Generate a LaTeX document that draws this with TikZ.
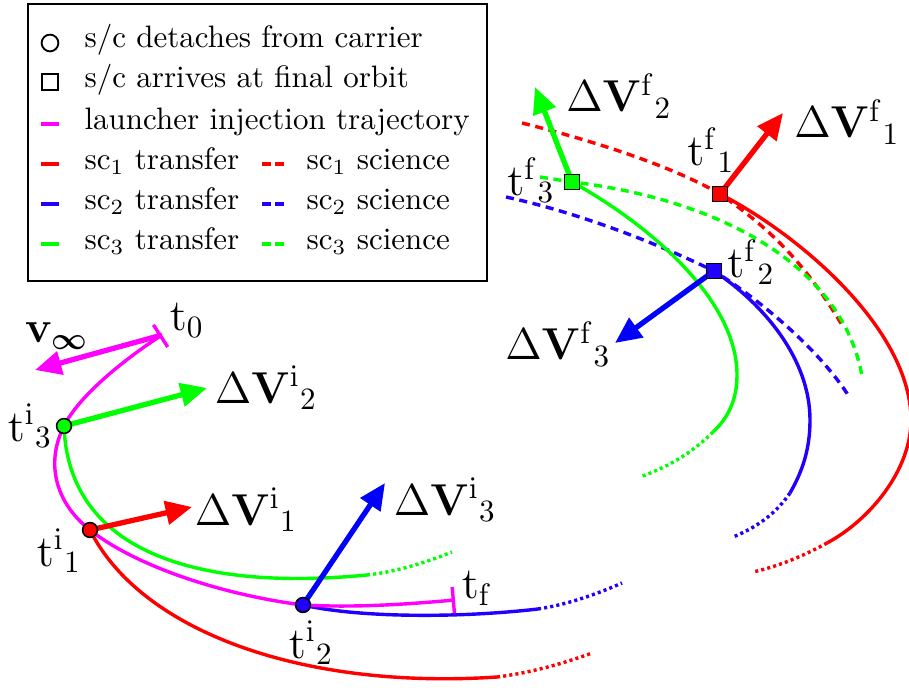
\documentclass[tikz,border=0pt]{standalone}
\usepackage{amsmath}
\usetikzlibrary{arrows.meta,positioning}
\definecolor{launch}{RGB}{255,0,255}
\definecolor{scred}{RGB}{255,0,0}
\definecolor{scblue}{RGB}{34,0,255}
\definecolor{scgreen}{RGB}{0,255,0}
\tikzset{
    orbit/.style={line width=1.1pt},
    science/.style={orbit, dash pattern=on 2.6pt off 1.8pt},
    gapline/.style={orbit, dash pattern=on 1pt off 1pt},
    burn/.style={-{Triangle[length=8.5pt,width=7.5pt]}, line width=1.7pt},
    depart/.style={circle, draw, line width=0.5pt, inner sep=0pt, minimum size=4.8pt},
    arrive/.style={rectangle, draw, line width=0.5pt, inner sep=0pt, minimum size=4.8pt},
    lbl/.style={font=\Large, inner sep=0pt},
    key/.style={anchor=base west, inner sep=0pt},
}

\begin{document}
\begin{tikzpicture}[x=0.3227pt, y=-0.3227pt]
    \useasboundingbox (0,0) rectangle (909,688);

    \coordinate (t0) at (162,335);
    \coordinate (ti3) at (64,426);
    \coordinate (ti1) at (90,530);
    \coordinate (ti2) at (303,605);
    \coordinate (tf) at (455,600);
    \coordinate (tf1) at (720,194);
    \coordinate (tf3) at (572,182);
    \coordinate (tf2) at (714,271);

    % science orbits
    \draw[science, scred] (522,123) .. controls (590,140) and (670,165) .. (tf1)
        .. controls (775,232) and (807,267) .. (842,325);
    \draw[science, scgreen] (540,177) -- (tf3) .. controls (722,200) and (842,266) .. (862,376);
    \draw[science, scblue] (506,197) .. controls (575,212) and (650,240) .. (tf2)
        .. controls (760,300) and (820,350) .. (850,398);

    % arrival arcs
    \draw[orbit, scred] (tf1) .. controls (800,235) and (911,330) .. (911,420)
        .. controls (911,470) and (870,520) .. (827,543);
    \draw[gapline, scred] (827,543) .. controls (800,558) and (775,567) .. (753,572);
    \draw[orbit, scblue] (tf2) .. controls (765,305) and (810,360) .. (810,420)
        .. controls (810,450) and (802,472) .. (790,493);
    \draw[gapline, scblue] (790,493) .. controls (775,515) and (755,528) .. (733,537);
    \draw[orbit, scgreen] (tf3) .. controls (650,225) and (737,300) .. (737,375)
        .. controls (737,400) and (728,418) .. (713,432);
    \draw[gapline, scgreen] (713,432) .. controls (690,455) and (665,468) .. (640,477);

    % departure arcs
    \draw[orbit, scgreen] (ti3) .. controls (68,548) and (190,592) .. (367,575);
    \draw[gapline, scgreen] (367,575) .. controls (395,572) and (425,563) .. (452,552);
    \draw[orbit, scred] (ti1) .. controls (140,630) and (300,690) .. (497,677);
    \draw[gapline, scred] (497,677) .. controls (530,673) and (565,663) .. (592,653);
    \draw[orbit, scblue] (ti2) .. controls (360,618) and (460,618) .. (538,609);
    \draw[gapline, scblue] (538,609) .. controls (565,605) and (595,595) .. (622,583);

    \draw[orbit, launch, {Bar[width=8.5pt]}-{Bar[width=8.5pt]}] (t0)
        .. controls (128,357) and (80,394) .. (ti3)
        .. controls (44,466) and (58,505) .. (ti1)
        .. controls (137,567) and (224,595) .. (ti2)
        .. controls (355,608) and (410,604) .. (tf);

    % burns
    \coordinate (vinftip) at (35,370);
    \coordinate (dvi2tip) at (207,388);
    \coordinate (dvi1tip) at (192,507);
    \coordinate (dvi3tip) at (385,483);
    \coordinate (dvf1tip) at (783,113);
    \coordinate (dvf2tip) at (535,87);
    \coordinate (dvf3tip) at (615,343);
    \draw[burn, launch] (t0) -- (vinftip);
    \draw[burn, scgreen] (ti3) -- (dvi2tip);
    \draw[burn, scred] (ti1) -- (dvi1tip);
    \draw[burn, blue] (ti2) -- (dvi3tip);
    \draw[burn, scred] (tf1) -- (dvf1tip);
    \draw[burn, scgreen] (tf3) -- (dvf2tip);
    \draw[burn, blue] (tf2) -- (dvf3tip);

    \node[depart, fill=scgreen] (mi3) at (ti3) {};
    \node[depart, fill=scred] (mi1) at (ti1) {};
    \node[depart, fill=scblue] (mi2) at (ti2) {};
    \node[arrive, fill=scred] (mf1) at (tf1) {};
    \node[arrive, fill=scgreen] (mf3) at (tf3) {};
    \node[arrive, fill=scblue] (mf2) at (tf2) {};

    \node[lbl] (lt0) at (187,320) {$\mathrm{t}_0$};
    \node[lbl] (ltf) at (477,588) {$\mathrm{t_f}$};
    \node[lbl] (lti3) at (30,426) {${\mathrm{t}^{\mathrm{i}}}_{3}$};
    \node[lbl] (lti1) at (59,551) {${\mathrm{t}^{\mathrm{i}}}_{1}$};
    \node[lbl] (lti2) at (311,643) {${\mathrm{t}^{\mathrm{i}}}_{2}$};
    \node[lbl] (ltf1) at (711,150) {${\mathrm{t}^{\mathrm{f}}}_{1}$};
    \node[lbl] (ltf3) at (531,180) {${\mathrm{t}^{\mathrm{f}}}_{3}$};
    \node[lbl] (ltf2) at (751,262) {${\mathrm{t}^{\mathrm{f}}}_{2}$};
    \node[lbl] (vinf) at (57,336) {$\mathbf{v}_{\boldsymbol{\infty}}$};
    \node[lbl] (dvi2) at (266,388) {${\Delta\mathbf{V}^{\mathrm{i}}}_{2}$};
    \node[lbl] (dvi1) at (246,510) {${\Delta\mathbf{V}^{\mathrm{i}}}_{1}$};
    \node[lbl] (dvi3) at (445,500) {${\Delta\mathbf{V}^{\mathrm{i}}}_{3}$};
    \node[lbl] (dvf1) at (847,122) {${\Delta\mathbf{V}^{\mathrm{f}}}_{1}$};
    \node[lbl] (dvf2) at (619,96) {${\Delta\mathbf{V}^{\mathrm{f}}}_{2}$};
    \node[lbl] (dvf3) at (558,344) {${\Delta\mathbf{V}^{\mathrm{f}}}_{3}$};

    % legend
    \draw[line width=0.65pt] (28,4) rectangle (487,281);
    \node[circle, draw, line width=0.6pt, inner sep=0pt, minimum size=5.4pt] (keydep) at (50,43) {};
    \node[rectangle, draw, line width=0.6pt, inner sep=0pt, minimum size=5.4pt] (keyarr) at (50,82) {};
    \node[key] (keytxt1) at (84,48) {s/c detaches from carrier};
    \node[key] (keytxt2) at (84,88) {s/c arrives at final orbit};
    \draw[orbit, launch] (41,124) -- (59,124);
    \node[key] (keytxt3) at (84,130) {launcher injection trajectory};
    \foreach \col/\n/\y in {scred/1/170, scblue/2/210, scgreen/3/250} {
        \draw[orbit, \col] (41,\y-6) -- (59,\y-6);
        \draw[orbit, \col, dash pattern=on 2.8pt off 1.5pt] (262,\y-6) -- (288,\y-6);
        \node[key] (keytr\n) at (84,\y) {sc$_\n$ transfer};
        \node[key] (keysc\n) at (306,\y) {sc$_\n$ science};
    }

\end{tikzpicture}
\end{document}
